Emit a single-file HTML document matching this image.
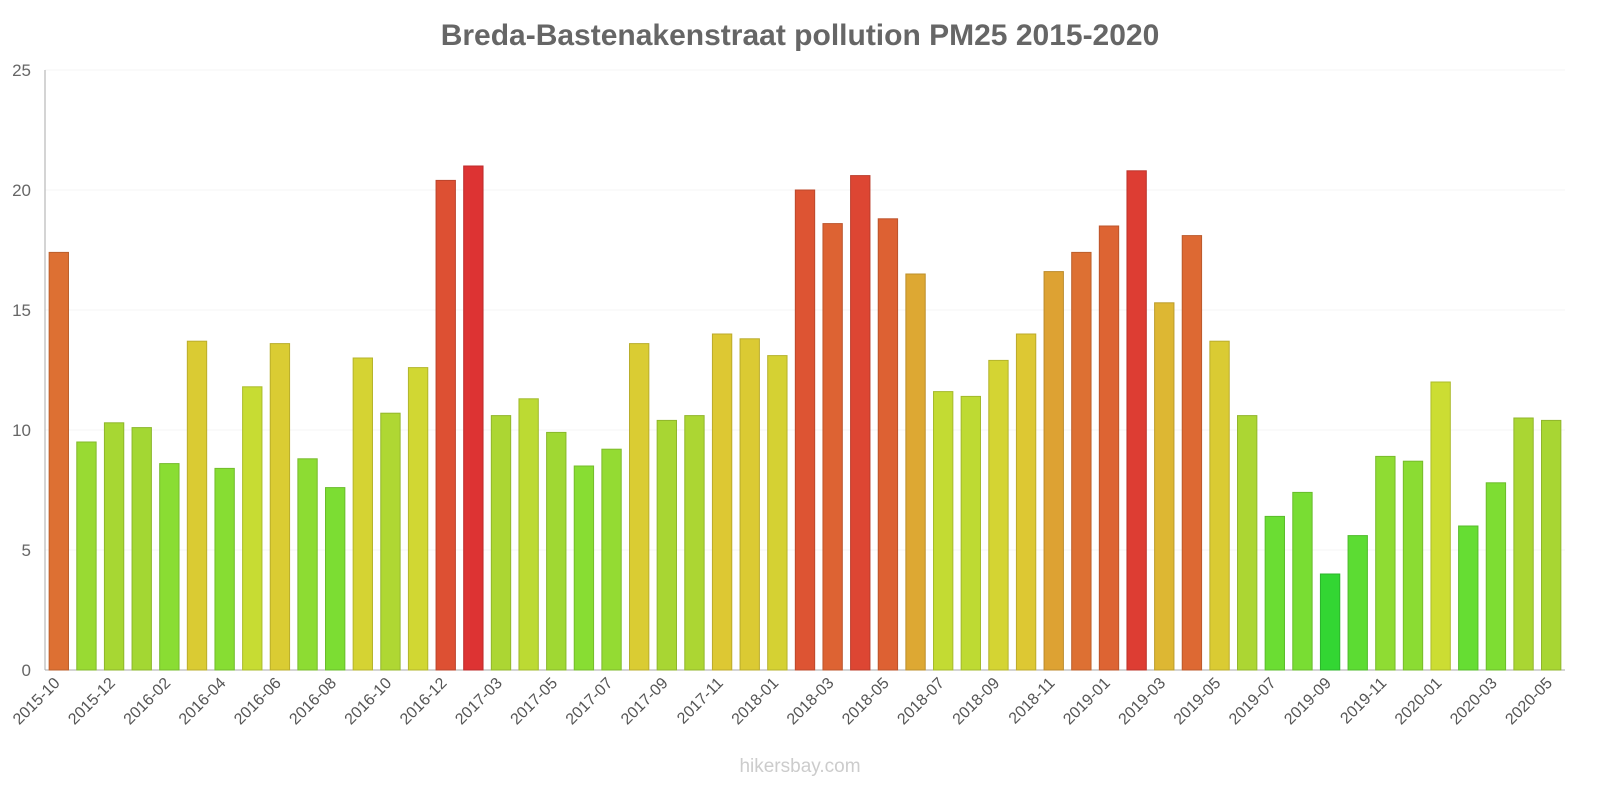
<!DOCTYPE html>
<html><head><meta charset="utf-8"><style>
body{margin:0;background:#fff;font-family:"Liberation Sans",sans-serif}
</style></head><body>
<svg id="c" width="1600" height="800" xmlns="http://www.w3.org/2000/svg">
<text x="800" y="45" text-anchor="middle" font-size="30" font-weight="bold" fill="#666">Breda-Bastenakenstraat pollution PM25 2015-2020</text>
<text x="800" y="772" text-anchor="middle" font-size="19" fill="#ccc">hikersbay.com</text>
</svg>
<script>
const categories=["2015-10","2015-11","2015-12","2016-01","2016-02","2016-03","2016-04","2016-05","2016-06","2016-07","2016-08","2016-09","2016-10","2016-11","2016-12","2017-02","2017-03","2017-04","2017-05","2017-06","2017-07","2017-08","2017-09","2017-10","2017-11","2017-12","2018-01","2018-02","2018-03","2018-04","2018-05","2018-06","2018-07","2018-08","2018-09","2018-10","2018-11","2018-12","2019-01","2019-02","2019-03","2019-04","2019-05","2019-06","2019-07","2019-08","2019-09","2019-10","2019-11","2019-12","2020-01","2020-02","2020-03","2020-04","2020-05"];
const values=[17.4,9.5,10.3,10.1,8.6,13.7,8.4,11.8,13.6,8.8,7.6,13.0,10.7,12.6,20.4,21.0,10.6,11.3,9.9,8.5,9.2,13.6,10.4,10.6,14.0,13.8,13.1,20.0,18.6,20.6,18.8,16.5,11.6,11.4,12.9,14.0,16.6,17.4,18.5,20.8,15.3,18.1,13.7,10.6,6.4,7.4,4.0,5.6,8.9,8.7,12.0,6.0,7.8,10.5,10.4];
const yTicks=[0,5,10,15,20,25];
const NS="http://www.w3.org/2000/svg",svg=document.getElementById('c');
const L=45,R=1565,T=70,B=670,yMax=25;
const y=v=>B-(v/yMax)*(B-T);
const slot=(R-L)/categories.length;
const xc=i=>L+slot*(i+0.5);
function mk(t,a){const e=document.createElementNS(NS,t);for(const k in a)e.setAttribute(k,a[k]);svg.appendChild(e);return e;}
const stops=[[4,[51,214,51]],[6,[102,221,51]],[8.5,[136,221,51]],[10.5,[170,214,51]],[12,[204,221,51]],[14,[221,200,51]],[16.5,[221,168,51]],[17.4,[221,112,51]],[20.4,[221,80,51]],[21,[221,51,51]]];
function col(v,d){let c=stops[0][1];if(v>=stops[stops.length-1][0])c=stops[stops.length-1][1];else for(let i=0;i<stops.length-1;i++){const a=stops[i],b=stops[i+1];if(v>=a[0]&&v<=b[0]){const t=(v-a[0])/(b[0]-a[0]);c=a[1].map((x,j)=>x+(b[1][j]-x)*t);break;}}
return 'rgb('+c.map(x=>Math.round(x*d)).join(',')+')';}
yTicks.forEach(t=>{
const g=mk('line',{x1:L,x2:R,y1:y(t),y2:y(t),stroke:'#f4f4f4'});


const tx=mk('text',{x:L-14,y:y(t)+6,'text-anchor':'end','font-size':17,fill:'#666'});tx.textContent=t;


});
const ax=mk('line',{x1:L,x2:L,y1:T,y2:B,stroke:'#aaa'});


const xa=mk('line',{x1:L,x2:R,y1:B,y2:B,stroke:'#aaa'});


const bw=slot*0.7;
values.forEach((v,i)=>{
const r=mk('rect',{x:xc(i)-bw/2,y:y(v),width:bw,height:B-y(v),fill:col(v,1),stroke:col(v,0.85),'stroke-width':1});


if(i%2===0){
const tx=mk('text',{x:xc(i)+2,y:B+14,'text-anchor':'end','font-size':16,fill:'#555',transform:'rotate(-45 '+(xc(i)+2)+' '+(B+14)+')'});
tx.textContent=categories[i];


}
});
</script>
</body></html>
